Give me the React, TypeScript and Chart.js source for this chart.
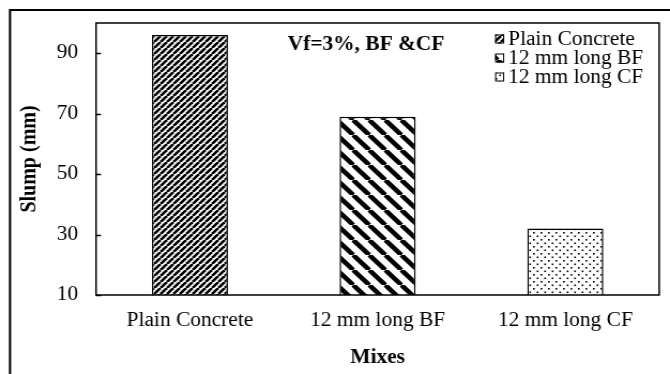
import React, { useEffect, useRef } from 'react';
import { Chart, registerables } from 'chart.js';
Chart.register(...registerables);

const categories = ['Plain Concrete', '12 mm long BF', '12 mm long CF'];
const slumpValues = [96, 69, 32];
const yTickValues = [10, 30, 50, 70, 90];
const legendLabels = ['Plain Concrete', '12 mm long BF', '12 mm long CF'];
const chartTitle = 'Vf=3%, BF &CF';
const xTitle = 'Mixes';
const yTitle = 'Slump (mm)';

const FONT = "'Liberation Serif', 'Times New Roman', serif";
// the reference is horizontally stretched; render narrower and stretch with CSS
const SX = 1.07;
const CW = Math.round(670 / SX);
const CH = 374;

function makePattern(kind: string): CanvasPattern | string {
  const c = document.createElement('canvas');
  let s = 6;
  if (kind === 'back') s = 15;
  if (kind === 'dots') s = 7;
  c.width = s;
  c.height = s;
  const g = c.getContext('2d')!;
  g.fillStyle = '#fff';
  g.fillRect(0, 0, s, s);
  g.strokeStyle = '#000';
  g.fillStyle = '#000';
  if (kind === 'fwd') {
    g.lineWidth = 2.6;
    for (const o of [-s, 0, s]) {
      g.beginPath();
      g.moveTo(o, s);
      g.lineTo(o + s, 0);
      g.stroke();
    }
  } else if (kind === 'back') {
    g.lineWidth = 4.5;
    for (const o of [-s, 0, s]) {
      g.beginPath();
      g.moveTo(o, 0);
      g.lineTo(o + s, s);
      g.stroke();
    }
  } else {
    g.fillRect(1, 1, 1.6, 1.6);
    g.fillRect(4.5, 4.5, 1.6, 1.6);
  }
  const p = g.createPattern(c, 'repeat');
  return p || '#000';
}

export default function App() {
  const ref = useRef<HTMLCanvasElement | null>(null);
  useEffect(() => {
    const canvas = ref.current;
    if (!canvas) return;
    const patterns = [makePattern('fwd'), makePattern('back'), makePattern('dots')];

    const deco = {
      id: 'deco',
      beforeDraw(chart: any) {
        const ctx = chart.ctx;
        ctx.save();
        ctx.fillStyle = '#fff';
        ctx.fillRect(0, 0, chart.width, chart.height);
        ctx.strokeStyle = '#000';
        ctx.lineWidth = 2;
        ctx.beginPath();
        ctx.moveTo(10 / SX, chart.height + 5);
        ctx.lineTo(10 / SX, 10);
        ctx.lineTo(chart.width + 5, 10);
        ctx.stroke();
        ctx.restore();
      },
      afterDraw(chart: any) {
        const ctx = chart.ctx;
        const a = chart.chartArea;
        const ys = chart.scales.y;
        ctx.save();
        ctx.strokeStyle = '#000';
        ctx.lineWidth = 1.5;
        ctx.strokeRect(a.left, a.top, a.right - a.left, a.bottom - a.top);
        for (const v of yTickValues) {
          const y = Math.round(ys.getPixelForValue(v)) + 0.5;
          ctx.beginPath();
          ctx.moveTo(a.left, y);
          ctx.lineTo(a.left + 5 / SX, y);
          ctx.stroke();
        }
        ctx.fillStyle = '#000';
        ctx.font = `bold 20px ${FONT}`;
        ctx.textAlign = 'center';
        ctx.textBaseline = 'middle';
        ctx.fillText(chartTitle, 366 / SX, 45);
        ctx.font = `20px ${FONT}`;
        ctx.textAlign = 'left';
        for (let i = 0; i < legendLabels.length; i++) {
          const cy = 39 + i * 19;
          const ix = 495 / SX;
          ctx.fillStyle = patterns[i] as any;
          ctx.fillRect(ix, cy - 4.5, 9 / SX, 9);
          ctx.lineWidth = 1;
          ctx.strokeRect(ix + 0.5, cy - 4, 9 / SX - 1, 8);
          ctx.fillStyle = '#000';
          ctx.fillText(legendLabels[i], 508 / SX, cy + 1);
        }
        ctx.restore();
      },
    };

    const chart = new Chart(canvas, {
      type: 'bar',
      data: {
        labels: categories,
        datasets: [
          {
            label: 'Slump',
            data: slumpValues,
            backgroundColor: patterns as any,
            borderColor: '#000',
            borderWidth: 1.5,
            barPercentage: 0.405,
            categoryPercentage: 1,
          },
        ],
      },
      options: {
        responsive: false,
        animation: false,
        devicePixelRatio: 1,
        layout: { padding: { top: 23, right: CW - 659 / SX, left: 0, bottom: 0 } },
        plugins: { legend: { display: false }, tooltip: { enabled: false }, title: { display: false } },
        scales: {
          x: {
            grid: { display: false, drawTicks: false },
            border: { display: false },
            ticks: { color: '#000', font: { family: FONT, size: 20 }, padding: 14, maxRotation: 0 },
            title: { display: true, text: xTitle, color: '#000', font: { family: FONT, size: 20, weight: 'bold' }, padding: { top: 0, bottom: 4 } },
            afterFit: (s: any) => { s.height = CH - 295; s.paddingLeft = 0; s.paddingRight = 0; },
          },
          y: {
            min: 10,
            max: 100,
            grid: { display: false, drawTicks: false },
            border: { display: false },
            ticks: { stepSize: 20, color: '#000', font: { family: FONT, size: 20 }, padding: 18 / SX },
            afterBuildTicks: (s: any) => { s.ticks = yTickValues.map((v) => ({ value: v })); },
            title: { display: true, text: yTitle, color: '#000', font: { family: FONT, size: 20, weight: 'bold' }, padding: { top: 30 / SX - 12, bottom: 0 } },
            afterFit: (s: any) => { s.width = 96 / SX; s.paddingTop = 0; s.paddingBottom = 0; },
          },
        },
      },
      plugins: [deco],
    });
    return () => chart.destroy();
  }, []);
  return (
    <div style={{ position: 'fixed', left: 0, top: 0, width: 670, height: CH }}>
      <canvas ref={ref} width={CW} height={CH} style={{ width: 670, height: CH, display: 'block' }} />
    </div>
  );
}
